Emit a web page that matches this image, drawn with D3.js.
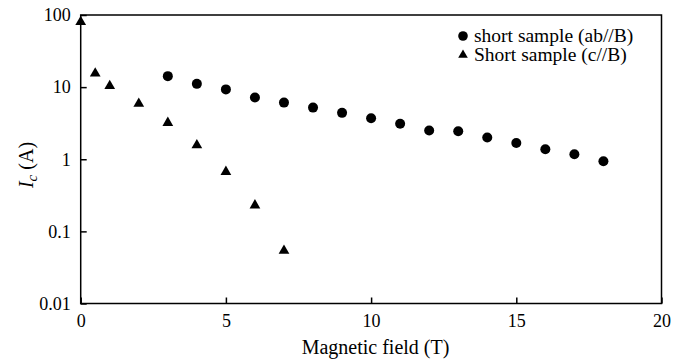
<!DOCTYPE html>
<html><head><meta charset="utf-8">
<script src="https://cdn.jsdelivr.net/npm/d3@7"></script>
<style>body{margin:0;background:#fff}svg{display:block}</style>
</head><body><svg id="c" width="673" height="360"></svg>
<script>
const abField = [3,4,5,6,7,8,9,10,11,12,13,14,15,16,17,18];
const abIc = [14.2,11.1,9.3,7.2,6.1,5.2,4.4,3.7,3.1,2.5,2.45,2.0,1.68,1.38,1.17,0.94];
const cField = [0,0.5,1,2,3,4,5,6,7];
const cIc = [80,15.5,10.4,5.9,3.2,1.57,0.67,0.23,0.054];
const xTicks = [0,5,10,15,20];
const yTicks = [0.01,0.1,1,10,100];
const yTickLabels = ["0.01","0.1","1","10","100"];
const legendLabels = ["short sample (ab//B)","Short sample (c//B)"];

const FONT = "'Liberation Serif', 'Times New Roman', Times, serif";
const svg = d3.select("#c");
const L=80.7, R=661.5, T=15, B=303.5;
const x = d3.scaleLinear().domain([0,20]).range([L,R]);
const y = d3.scaleLog().domain([0.01,100]).range([B,T]);

svg.append("rect").attr("x",L).attr("y",T).attr("width",R-L).attr("height",B-T)
  .attr("fill","none").attr("stroke","#000").attr("stroke-width",1.5);

const xa = svg.append("g").attr("transform",`translate(0,${B})`)
  .call(d3.axisBottom(x).tickValues(xTicks).tickSizeInner(-6).tickSizeOuter(0).tickPadding(11));
xa.attr("font-family",null).attr("font-size",null);
xa.select(".domain").remove();
xa.selectAll("line").attr("stroke-width",1.5);
xa.selectAll("text").style("font-family",FONT).style("font-size","18px").attr("fill","#000");

const ya = svg.append("g").attr("transform",`translate(${L},0)`)
  .call(d3.axisLeft(y).tickValues(yTicks).tickFormat((d,i)=>yTickLabels[i]).tickSizeInner(-6).tickSizeOuter(0).tickPadding(10));
ya.attr("font-family",null).attr("font-size",null);
ya.select(".domain").remove();
ya.selectAll("line").attr("stroke-width",1.5);
ya.selectAll("text").style("font-family",FONT).style("font-size","18px").attr("fill","#000");

svg.append("g").selectAll("circle").data(abField).join("circle")
  .attr("cx",(d)=>x(d)).attr("cy",(d,i)=>y(abIc[i])).attr("r",5).attr("fill","#000");
const tri = d3.symbol().type(d3.symbolTriangle).size(50);
svg.append("g").selectAll("path").data(cField).join("path")
  .attr("d",tri).attr("transform",(d,i)=>`translate(${x(d)},${y(cIc[i])})`).attr("fill","#000");

const lg = svg.append("g");
lg.append("circle").attr("cx",463).attr("cy",36).attr("r",4.8).attr("fill","#000");
lg.append("path").attr("d",d3.symbol().type(d3.symbolTriangle).size(40)).attr("transform","translate(463,55)").attr("fill","#000");
lg.append("text").attr("x",474).attr("y",42).style("font-family",FONT).style("font-size","19.5px").text(legendLabels[0]);
lg.append("text").attr("x",474).attr("y",61).style("font-family",FONT).style("font-size","19.5px").text(legendLabels[1]);

svg.append("text").attr("x",375.5).attr("y",354).attr("text-anchor","middle").style("font-family",FONT).style("font-size","20px").text("Magnetic field (T)");
const yt = svg.append("text").attr("transform","translate(33,165) rotate(-90)").attr("text-anchor","middle").style("font-family",FONT).style("font-size","20px");
yt.append("tspan").attr("font-style","italic").text("I");
yt.append("tspan").attr("font-style","italic").style("font-size","15px").attr("dy",4).text("c");
yt.append("tspan").attr("dy",-4).text(" (A)");
</script></body></html>
